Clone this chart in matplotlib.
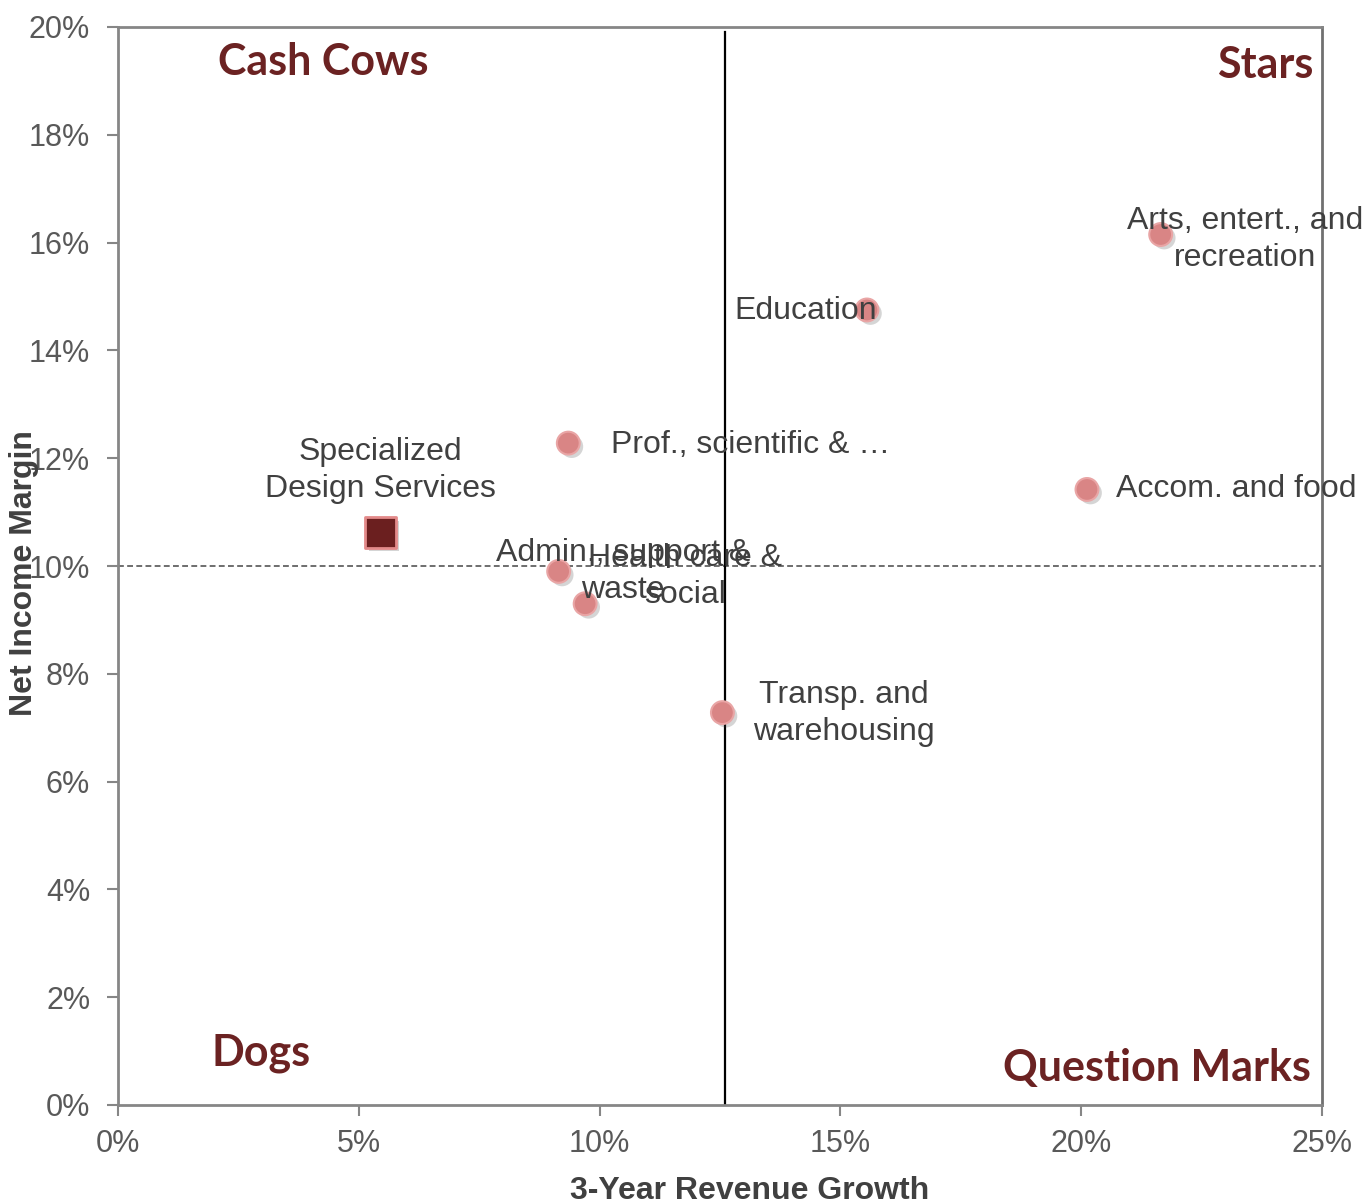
import matplotlib.pyplot as plt
import matplotlib.patheffects as pe
from matplotlib.ticker import PercentFormatter

# industries (growth %, margin %)
names = ["Admin., support &\nwaste", "Health care &\nsocial", "Prof., scientific & \u2026",
         "Education", "Arts, entert., and\nrecreation", "Accom. and food",
         "Transp. and\nwarehousing"]
growth = [9.15, 9.7, 9.35, 15.55, 21.65, 20.12, 12.55]
margin = [9.9, 9.3, 12.28, 14.75, 16.15, 11.42, 7.28]

# label offsets in pixels and alignment
offsets = [(64, 0), (100, 27), (43, -2), (10, -1), (84, -5), (29, 0), (121, -1)]
aligns = ["center", "center", "left", "right", "center", "left", "center"]

# highlighted industry
focus_name = "Specialized\nDesign Services"
focus_growth = [5.45]
focus_margin = [10.62]

avg_growth = 12.6
avg_margin = 10.0
line_top = 19.9

fig = plt.figure(figsize=(13.72, 12.01), dpi=100)
ax = fig.add_axes([118 / 1372, 96 / 1201, 1204 / 1372, 1078 / 1201])

ax.axhline(avg_margin, color="#555555", lw=1.2, ls=(0, (3.5, 2)), zorder=1, clip_on=False)
ax.plot([avg_growth, avg_growth], [0, line_top], color="black", lw=1.6, zorder=2)

shadow = [pe.SimplePatchShadow(offset=(2.5, -2.5), alpha=0.22, shadow_rgbFace="#444444"), pe.Normal()]
ax.scatter(growth, margin, s=270, c="#D98585", edgecolors="#E9A5A5", linewidths=1.5,
           zorder=4, path_effects=shadow)
ax.scatter(focus_growth, focus_margin, s=480, marker="s", c="#6B1F1F", edgecolors="#E38A8A",
           linewidths=2, zorder=4, path_effects=shadow)

lab_font = dict(fontsize=23, color="#404040", family="Liberation Sans", linespacing=1.3)
for n, gx, my, off, ha in zip(names, growth, margin, offsets, aligns):
    ax.annotate(n, (gx, my), xytext=off, textcoords="offset pixels", ha=ha, va="center",
                multialignment="center", zorder=5, annotation_clip=False, **lab_font)
ax.annotate(focus_name, (focus_growth[0], focus_margin[0]), xytext=(0, 62),
            textcoords="offset pixels", ha="center", va="center",
            multialignment="center", zorder=5, **lab_font)

quad = dict(fontsize=31, fontweight="bold", color="#6B2222", family="Lato",
            transform=ax.transAxes, va="center")
ax.text(0.083, 0.9675, "Cash Cows", ha="left", **quad)
ax.text(0.9925, 0.9647, "Stars", ha="right", **quad)
ax.text(0.078, 0.0482, "Dogs", ha="left", **quad)
ax.text(0.9909, 0.0343, "Question Marks", ha="right", **quad)

ax.set_xlim(0, 25)
ax.set_ylim(0, 20)
ax.set_xticks(range(0, 26, 5))
ax.set_yticks(range(0, 21, 2))
ax.xaxis.set_major_formatter(PercentFormatter(decimals=0))
ax.yaxis.set_major_formatter(PercentFormatter(decimals=0))
ax.tick_params(labelsize=22, labelcolor="#595959", color="#868686", width=1.5, length=8,
               direction="out")
ax.tick_params(axis="y", pad=12)
ax.tick_params(axis="x", pad=9)
for lab in ax.get_xticklabels() + ax.get_yticklabels():
    lab.set_family("Liberation Sans")
for s in ax.spines.values():
    s.set_color("#868686")
    s.set_linewidth(2)
ax.spines["right"].set_color("#707070")

ax.set_xlabel("3-Year Revenue Growth", fontsize=23, fontweight="bold", color="#404040",
              family="Liberation Sans")
ax.set_ylabel("Net Income Margin", fontsize=23, fontweight="bold", color="#404040",
              family="Liberation Sans")
ax.xaxis.set_label_coords(0.525, -0.066)
ax.yaxis.set_label_coords(-0.078, 0.4935)
ax.yaxis.label.set_va("center")

fig.savefig("out.png", dpi=100)
